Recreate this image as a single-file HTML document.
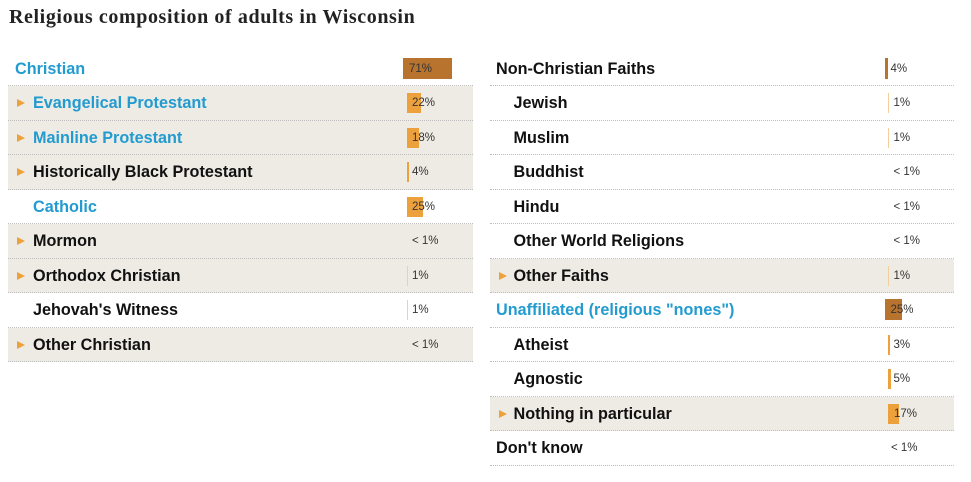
<!DOCTYPE html>
<html>
<head>
<meta charset="utf-8">
<style>
  html,body{margin:0;padding:0;background:#fff;}
  body{width:971px;height:482px;position:relative;overflow:hidden;font-family:"Liberation Sans",Arial,sans-serif;}
  .title{position:absolute;left:9px;top:4px;font-family:"Liberation Serif",serif;font-weight:bold;font-size:20px;letter-spacing:0.6px;color:#222;white-space:nowrap;line-height:26px;}
  .row{position:absolute;height:34.5px;box-sizing:border-box;border-bottom:1px dotted #bdbdbd;}
  .shade{background:#edebe4;}
  .lbl{position:absolute;top:0;height:35px;line-height:35px;font-weight:bold;font-size:16.2px;color:#111;white-space:nowrap;}
  .blue{color:#229bd0;}
  .arr{position:absolute;top:13px;width:0;height:0;border-top:4.5px solid transparent;border-bottom:4.5px solid transparent;border-left:8px solid #eea03a;}
  .bar{position:absolute;top:7px;height:20px;}
  .dark{background:#b8732f;top:6px;height:21px;}
  .org{background:#eca13c;}
  .lt{background:#f3cf9e;}
  .pct{position:absolute;top:0;height:35px;line-height:35px;font-size:11.5px;color:#333;white-space:nowrap;}
</style>
</head>
<body>
<div class="title">Religious composition of adults in Wisconsin</div>

<!-- LEFT COLUMN -->
<div class="row" style="left:8px;width:465px;top:51.5px;">
  <div class="lbl blue" style="left:7px;">Christian</div>
  <div class="bar dark" style="left:395px;width:49px;"></div>
  <div class="pct" style="left:401px;">71%</div>
</div>
<div class="row shade" style="left:8px;width:465px;top:86px;">
  <div class="arr" style="left:9px;"></div>
  <div class="lbl blue" style="left:25px;">Evangelical Protestant</div>
  <div class="bar org" style="left:398.5px;width:14px;"></div>
  <div class="pct" style="left:404px;">22%</div>
</div>
<div class="row shade" style="left:8px;width:465px;top:120.5px;">
  <div class="arr" style="left:9px;"></div>
  <div class="lbl blue" style="left:25px;">Mainline Protestant</div>
  <div class="bar org" style="left:398.5px;width:12px;"></div>
  <div class="pct" style="left:404px;">18%</div>
</div>
<div class="row shade" style="left:8px;width:465px;top:155px;">
  <div class="arr" style="left:9px;"></div>
  <div class="lbl" style="left:25px;">Historically Black Protestant</div>
  <div class="bar org" style="left:398.5px;width:2.5px;"></div>
  <div class="pct" style="left:404px;">4%</div>
</div>
<div class="row" style="left:8px;width:465px;top:189.5px;">
  <div class="lbl blue" style="left:25px;">Catholic</div>
  <div class="bar org" style="left:398.5px;width:16.5px;"></div>
  <div class="pct" style="left:404px;">25%</div>
</div>
<div class="row shade" style="left:8px;width:465px;top:224px;">
  <div class="arr" style="left:9px;"></div>
  <div class="lbl" style="left:25px;">Mormon</div>
  <div class="pct" style="left:404px;">&lt; 1%</div>
</div>
<div class="row shade" style="left:8px;width:465px;top:258.5px;">
  <div class="arr" style="left:9px;"></div>
  <div class="lbl" style="left:25px;">Orthodox Christian</div>
  <div class="bar lt" style="left:398.5px;width:1.2px;"></div>
  <div class="pct" style="left:404px;">1%</div>
</div>
<div class="row" style="left:8px;width:465px;top:293px;">
  <div class="lbl" style="left:25px;">Jehovah's Witness</div>
  <div class="bar lt" style="left:398.5px;width:1.2px;"></div>
  <div class="pct" style="left:404px;">1%</div>
</div>
<div class="row shade" style="left:8px;width:465px;top:327.5px;">
  <div class="arr" style="left:9px;"></div>
  <div class="lbl" style="left:25px;">Other Christian</div>
  <div class="pct" style="left:404px;">&lt; 1%</div>
</div>

<!-- RIGHT COLUMN -->
<div class="row" style="left:490px;width:464px;top:51.5px;">
  <div class="lbl" style="left:6px;">Non-Christian Faiths</div>
  <div class="bar dark" style="left:395px;width:2.7px;"></div>
  <div class="pct" style="left:400.5px;">4%</div>
</div>
<div class="row" style="left:490px;width:464px;top:86px;">
  <div class="lbl" style="left:23.5px;">Jewish</div>
  <div class="bar lt" style="left:398px;width:1.2px;"></div>
  <div class="pct" style="left:403.5px;">1%</div>
</div>
<div class="row" style="left:490px;width:464px;top:120.5px;">
  <div class="lbl" style="left:23.5px;">Muslim</div>
  <div class="bar lt" style="left:398px;width:1.2px;"></div>
  <div class="pct" style="left:403.5px;">1%</div>
</div>
<div class="row" style="left:490px;width:464px;top:155px;">
  <div class="lbl" style="left:23.5px;">Buddhist</div>
  <div class="pct" style="left:403.5px;">&lt; 1%</div>
</div>
<div class="row" style="left:490px;width:464px;top:189.5px;">
  <div class="lbl" style="left:23.5px;">Hindu</div>
  <div class="pct" style="left:403.5px;">&lt; 1%</div>
</div>
<div class="row" style="left:490px;width:464px;top:224px;">
  <div class="lbl" style="left:23.5px;">Other World Religions</div>
  <div class="pct" style="left:403.5px;">&lt; 1%</div>
</div>
<div class="row shade" style="left:490px;width:464px;top:258.5px;">
  <div class="arr" style="left:9px;"></div>
  <div class="lbl" style="left:23.5px;">Other Faiths</div>
  <div class="bar lt" style="left:398px;width:1.2px;"></div>
  <div class="pct" style="left:403.5px;">1%</div>
</div>
<div class="row" style="left:490px;width:464px;top:293px;">
  <div class="lbl blue" style="left:6px;">Unaffiliated (religious "nones")</div>
  <div class="bar dark" style="left:395px;width:17px;"></div>
  <div class="pct" style="left:400.5px;">25%</div>
</div>
<div class="row" style="left:490px;width:464px;top:327.5px;">
  <div class="lbl" style="left:23.5px;">Atheist</div>
  <div class="bar org" style="left:398px;width:2.3px;"></div>
  <div class="pct" style="left:403.5px;">3%</div>
</div>
<div class="row" style="left:490px;width:464px;top:362px;">
  <div class="lbl" style="left:23.5px;">Agnostic</div>
  <div class="bar org" style="left:398px;width:3px;"></div>
  <div class="pct" style="left:403.5px;">5%</div>
</div>
<div class="row shade" style="left:490px;width:464px;top:396.5px;">
  <div class="arr" style="left:9px;"></div>
  <div class="lbl" style="left:23.5px;">Nothing in particular</div>
  <div class="bar org" style="left:398px;width:11px;"></div>
  <div class="pct" style="left:404px;">17%</div>
</div>
<div class="row" style="left:490px;width:464px;top:431px;">
  <div class="lbl" style="left:6px;">Don't know</div>
  <div class="pct" style="left:401px;">&lt; 1%</div>
</div>
</body>
</html>
